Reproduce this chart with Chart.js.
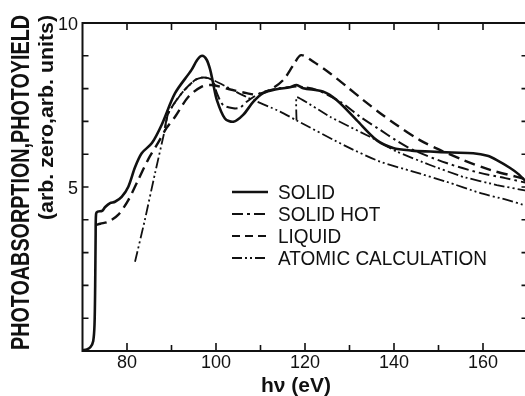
<!DOCTYPE html>
<html>
<head>
<meta charset="utf-8">
<script src="https://cdn.jsdelivr.net/npm/chart.js@4.4.1/dist/chart.umd.min.js"></script>
<style>
  html, body { margin: 0; padding: 0; background: #fff; overflow: hidden; }
  canvas { display: block; }
</style>
</head>
<body>
<canvas id="chart" width="530" height="396"></canvas>
<script>
// photon energy (eV) and intensity (arb. units)
const solidE = [70, 71, 71.8, 72.4, 72.7, 72.85, 72.95, 73.05, 73.4, 74.4, 75.1, 76.2, 77.3, 78.8, 80.3, 81.8, 83.3, 85.6, 87.8, 90.8, 94.5, 95.8, 96.9, 97.9, 98.7, 99.3, 100.2, 102.0, 103.9, 106.1, 108.4, 110.6, 113.6, 116.6, 118.1, 119.6, 124.0, 127.1, 131.6, 136.1, 139.8, 144, 148.1, 153, 157.8, 161, 163.1, 166.1, 167.9, 170];
const solidI = [0.02, 0.05, 0.12, 0.3, 0.8, 2.0, 3.5, 4.18, 4.25, 4.27, 4.39, 4.51, 4.55, 4.70, 5.01, 5.6, 6.03, 6.34, 6.9, 7.86, 8.57, 8.88, 9.0, 8.88, 8.57, 8.2, 7.65, 7.09, 6.99, 7.20, 7.60, 7.86, 7.98, 8.04, 8.11, 8.01, 7.91, 7.65, 7.04, 6.43, 6.19, 6.11, 6.08, 6.05, 6.03, 5.95, 5.82, 5.58, 5.40, 5.12];

const hotE = [88.5, 89.3, 92.3, 95.3, 97.3, 99.2, 100.2, 101.6, 103.9, 105.4, 106.9, 109.9, 112.9, 116.6, 118.9, 122.6, 127.9, 132.4, 136.9, 140.5, 144.3, 151.8, 159.3, 165, 170];
const hotI = [6.8, 7.25, 7.86, 8.26, 8.34, 8.25, 7.86, 7.50, 7.40, 7.42, 7.60, 7.86, 7.98, 8.05, 8.06, 7.96, 7.60, 7.14, 6.74, 6.42, 6.13, 5.73, 5.43, 5.27, 5.12];

const liquidE = [73.0, 74.0, 75.8, 78.0, 80.3, 82.5, 84.8, 87.0, 88.9, 90.8, 93.8, 96.8, 99.0, 103, 106.9, 109.1, 112.1, 115.1, 117.4, 119.1, 121.9, 125.6, 129.4, 133.1, 136.9, 140.6, 145.8, 150.3, 155.6, 161.6, 167.6, 170];
const liquidI = [3.84, 3.88, 3.94, 4.15, 4.60, 5.21, 5.85, 6.35, 6.8, 7.14, 7.75, 8.06, 8.11, 7.98, 7.86, 7.82, 7.96, 8.26, 8.72, 9.02, 8.82, 8.47, 8.06, 7.65, 7.25, 6.89, 6.43, 6.13, 5.82, 5.52, 5.31, 5.22];

const atomicE = [81.8, 84.0, 86.3, 88.5, 89.3, 92.3, 95.3, 97.3, 99.4, 106.9, 114.4, 118.1, 129.4, 136.9, 144.3, 151.8, 159.3, 165, 170];
const atomicI = [2.72, 3.99, 5.42, 6.74, 7.25, 7.86, 8.26, 8.35, 8.26, 7.74, 7.30, 7.03, 6.23, 5.77, 5.47, 5.16, 4.82, 4.62, 4.42];

// second branch of the atomic calculation, starting at the edge near 118 eV
const atomicEdgeE = [118.1, 118.15, 125.6, 134.6, 140.6, 148.1, 155.5, 163.1, 170];
const atomicEdgeI = [7.03, 7.74, 7.14, 6.53, 6.08, 5.67, 5.31, 5.06, 4.88];

const legendLabels = ['SOLID', 'SOLID HOT', 'LIQUID', 'ATOMIC CALCULATION'];
const xTickLabels = [80, 100, 120, 140, 160];
const yTickLabels = [5, 10];

const pts = (xs, ys) => xs.map((x, i) => ({ x: x, y: ys[i] }));

const INK = '#111';
const dashHot = [11, 4, 2.5, 4];
const dashLiquid = [11, 6];
const dashAtomic = [11, 3, 2, 3, 2, 3];

const frame = {
  id: 'frame',
  afterDraw(chart) {
    const { ctx, chartArea: a, scales } = chart;
    const xs = scales.x, ys = scales.y;
    ctx.save();
    ctx.strokeStyle = INK;
    ctx.fillStyle = INK;
    ctx.lineWidth = 2;
    ctx.setLineDash([]);
    ctx.strokeRect(a.left, a.top, a.right - a.left, a.bottom - a.top);

    // inward ticks
    ctx.lineWidth = 1.6;
    ctx.beginPath();
    for (let v = 1; v < 10; v++) {
      const y = ys.getPixelForValue(v);
      ctx.moveTo(a.left, y); ctx.lineTo(a.left + 6, y);
      ctx.moveTo(a.right, y); ctx.lineTo(a.right - 6, y);
    }
    for (let v = 80; v < 170; v += 10) {
      const x = xs.getPixelForValue(v);
      const major = v % 20 === 0;
      ctx.moveTo(x, a.bottom); ctx.lineTo(x, a.bottom - (major ? 8 : 6));
      ctx.moveTo(x, a.top); ctx.lineTo(x, a.top + 7);
    }
    ctx.stroke();

    // tick labels
    ctx.font = '18px "Liberation Sans", Arial, sans-serif';
    ctx.textAlign = 'center';
    ctx.textBaseline = 'alphabetic';
    xTickLabels.forEach(v => ctx.fillText(String(v), xs.getPixelForValue(v), 368));
    ctx.textAlign = 'right';
    ctx.textBaseline = 'middle';
    yTickLabels.forEach(v => ctx.fillText(String(v), 78, ys.getPixelForValue(v) + 2));

    // axis titles
    ctx.textAlign = 'center';
    ctx.textBaseline = 'alphabetic';
    ctx.font = 'bold 21px "Liberation Sans", Arial, sans-serif';
    ctx.fillText('h\u03bd (eV)', 296, 392);

    const vText = (text, font, baseX, yBottom, len) => {
      ctx.save();
      ctx.font = font;
      const w = ctx.measureText(text).width;
      ctx.translate(baseX, yBottom);
      ctx.rotate(-Math.PI / 2);
      ctx.scale(len / w, 1);
      ctx.textAlign = 'left';
      ctx.fillText(text, 0, 0);
      ctx.restore();
    };
    vText('PHOTOABSORPTION,PHOTOYIELD', 'bold 25px "Liberation Sans", Arial, sans-serif', 28.5, 350, 335);
    vText('(arb. zero,arb. units)', 'bold 20px "Liberation Sans", Arial, sans-serif', 53, 220, 205);

    // legend
    const rows = [192, 214, 236, 258];
    const styles = [[], [11, 4, 3, 4], [8, 5], [10, 3, 2, 3, 2, 3]];
    const widths = [2.4, 2, 2.2, 1.8];
    ctx.font = '21px "Liberation Sans", Arial, sans-serif';
    const sx = 209 / ctx.measureText(legendLabels[3]).width;
    legendLabels.forEach((lab, i) => {
      ctx.setLineDash(styles[i]);
      ctx.lineWidth = widths[i];
      ctx.beginPath();
      ctx.moveTo(232, rows[i]);
      ctx.lineTo(268, rows[i]);
      ctx.stroke();
      ctx.setLineDash([]);
      ctx.save();
      ctx.translate(278, rows[i] + 1);
      ctx.scale(sx, 1);
      ctx.textAlign = 'left';
      ctx.textBaseline = 'middle';
      ctx.fillText(lab, 0, 0);
      ctx.restore();
    });
    ctx.restore();
  }
};

new Chart(document.getElementById('chart'), {
  type: 'line',
  data: {
    datasets: [
      { label: 'SOLID', data: pts(solidE, solidI), borderColor: INK, borderWidth: 2.6, tension: 0.3 },
      { label: 'SOLID HOT', data: pts(hotE, hotI), borderColor: INK, borderWidth: 2, borderDash: dashHot, tension: 0.3 },
      { label: 'LIQUID', data: pts(liquidE, liquidI), borderColor: INK, borderWidth: 2.4, borderDash: dashLiquid, tension: 0.3 },
      { label: 'ATOMIC CALCULATION', data: pts(atomicE, atomicI), borderColor: INK, borderWidth: 1.8, borderDash: dashAtomic, tension: 0.2 },
      { label: 'atomic edge', data: pts(atomicEdgeE, atomicEdgeI), borderColor: INK, borderWidth: 1.8, borderDash: dashAtomic, tension: 0.1 }
    ]
  },
  options: {
    responsive: false,
    animation: false,
    events: [],
    elements: { point: { radius: 0 }, line: { borderCapStyle: 'butt', fill: false } },
    layout: { padding: { left: 82.5, top: 23, right: 2.5, bottom: 45 } },
    scales: {
      x: { type: 'linear', min: 70, max: 170, display: false },
      y: { min: 0, max: 10, display: false }
    },
    plugins: { legend: { display: false }, tooltip: { enabled: false } }
  },
  plugins: [frame]
});
</script>
</body>
</html>
